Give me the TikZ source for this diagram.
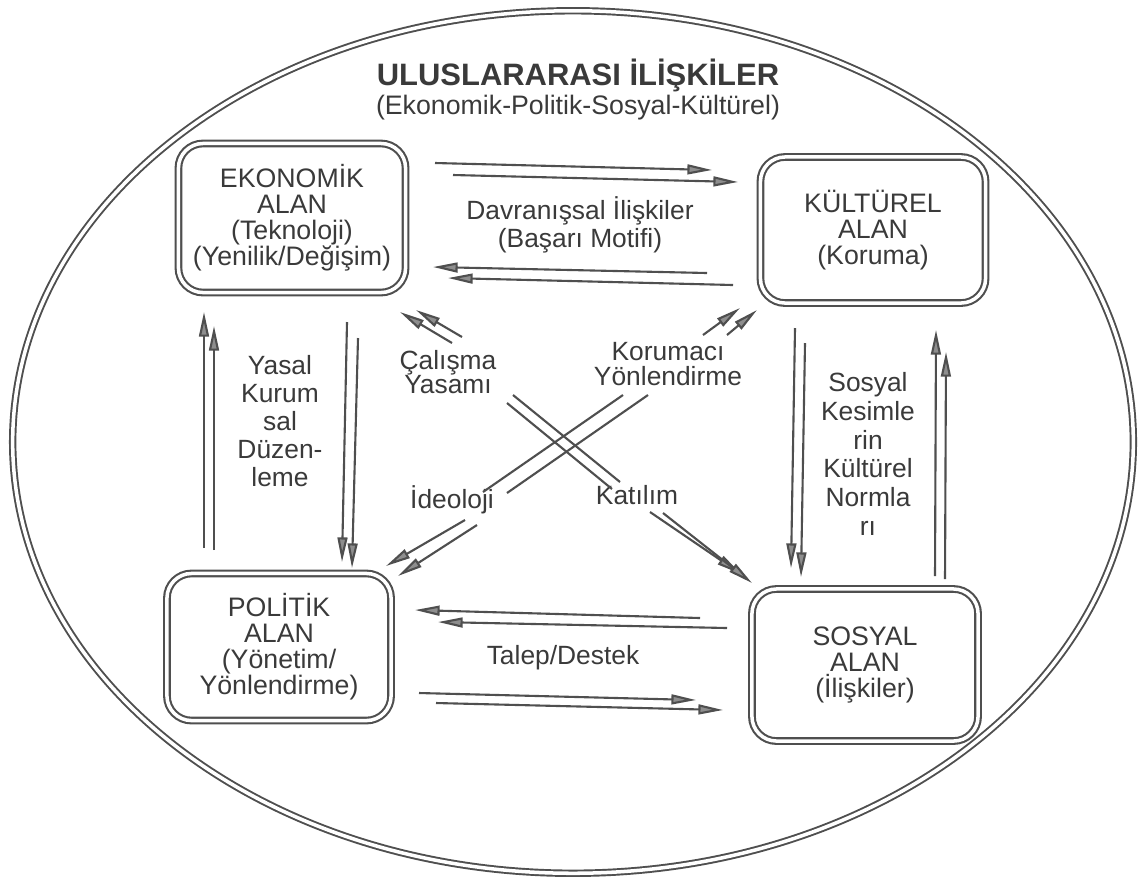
\documentclass[tikz,border=0pt]{standalone}
\usepackage{fontspec}
\setmainfont{Liberation Sans}
\usetikzlibrary{arrows.meta}
\definecolor{txt}{HTML}{3A3A3A}
\definecolor{ln}{HTML}{4F4F4F}
\definecolor{tipc}{HTML}{8E8E8E}
\begin{document}
\begin{tikzpicture}[x=0.01cm,y=-0.01cm,
  box/.style={draw=ln, line width=0.6pt, double=white, double distance=1pt, rounded corners=7pt,
              text=txt, align=center, font=\fontsize{7.6}{7.4}\selectfont, inner sep=0pt},
  arr/.style={draw=ln, line width=0.6pt, -{Triangle[length=7pt,width=2.8pt,fill=tipc]}},
  dline/.style={draw=ln, line width=0.6pt},
  lbl/.style={text=txt, align=center, font=\fontsize{7.5}{7.9}\selectfont, inner sep=1pt}]
\fill[white] (0,0) rectangle (1140,881);
\useasboundingbox (0,0) rectangle (1140,881);
% outer ellipse
\draw[ln, line width=0.55pt, double=white, double distance=1pt] (573,442) ellipse [x radius=5.6cm, y radius=4.31cm];
% title
\node[text=txt, font=\bfseries\fontsize{8.8}{10}\selectfont, inner sep=0pt] (title) at (578,75) {ULUSLARARASI İLİŞKİLER};
\node[text=txt, font=\fontsize{7.6}{9}\selectfont, inner sep=0pt] (subtitle) at (578,108) {(Ekonomik-Politik-Sosyal-Kültürel)};
% boxes
\node[box, minimum width=2.27cm, minimum height=1.49cm] (eko) at (292,218) {EKONOMİK\\ALAN\\(Teknoloji)\\(Yenilik/Değişim)};
\node[box, minimum width=2.25cm, minimum height=1.46cm] (kul) at (873,230) {KÜLTÜREL\\ALAN\\(Koruma)};
\node[box, minimum width=2.24cm, minimum height=1.47cm] (pol) at (279,647) {POLİTİK\\ALAN\\(Yönetim/\\Yönlendirme)};
\node[box, minimum width=2.26cm, minimum height=1.52cm] (sos) at (865,665) {SOSYAL\\ALAN\\(İlişkiler)};
% labels
\node[lbl] (davr) at (580,225) {Davranışsal İlişkiler\\(Başarı Motifi)};
\node[lbl, font=\fontsize{7.5}{7.9}\selectfont] (yasal) at (280,421) {Yasal\\Kurum\\sal\\Düzen-\\leme};
\node[lbl, font=\fontsize{7.5}{8.2}\selectfont] (sosy) at (868,454) {Sosyal\\Kesimle\\rin\\Kültürel\\Normla\\rı};
\node[lbl, font=\fontsize{7.5}{7.0}\selectfont] (calis) at (448,372) {Çalışma\\Yasamı};
\node[lbl, font=\fontsize{7.5}{7.0}\selectfont] (korum) at (668,364) {Korumacı\\Yönlendirme};
\node[lbl] (ideo) at (452,500) {İdeoloji};
\node[lbl] (katil) at (637,495) {Katılım};
\node[lbl] (talep) at (563,658) {Talep/Destek};
% coordinates
\coordinate (t1s) at (435,163); \coordinate (t1e) at (712,170);
\coordinate (t2s) at (453,175); \coordinate (t2e) at (738,182);
\coordinate (t3s) at (707,273); \coordinate (t3e) at (433,267);
\coordinate (t4s) at (733,285); \coordinate (t4e) at (448,278);
\coordinate (l1s) at (204,548); \coordinate (l1e) at (204,312);
\coordinate (l2s) at (214,550); \coordinate (l2e) at (214,326);
\coordinate (d1s) at (347,322); \coordinate (d1e) at (342,562);
\coordinate (d2s) at (358,338); \coordinate (d2e) at (352,568);
\coordinate (d3s) at (795,328); \coordinate (d3e) at (791,568);
\coordinate (d4s) at (805,343); \coordinate (d4e) at (801,577);
\coordinate (u1s) at (935,576); \coordinate (u1e) at (936,330);
\coordinate (u2s) at (945,579); \coordinate (u2e) at (946,352);
\coordinate (b1s) at (700,618); \coordinate (b1e) at (415,610);
\coordinate (b2s) at (727,628); \coordinate (b2e) at (438,622);
\coordinate (b3s) at (419,693); \coordinate (b3e) at (696,700);
\coordinate (b4s) at (436,703); \coordinate (b4e) at (723,710);
\coordinate (c1s) at (452,343); \coordinate (c1e) at (400,312);
\coordinate (c2s) at (462,337); \coordinate (c2e) at (416,310);
\coordinate (k1s) at (703,335); \coordinate (k1e) at (740,308);
\coordinate (k2s) at (727,335); \coordinate (k2e) at (757,310);
\coordinate (x1as) at (513,395); \coordinate (x1ae) at (620,482);
\coordinate (x1bs) at (507,403); \coordinate (x1be) at (612,489);
\coordinate (x2as) at (483,492); \coordinate (x2ae) at (623,395);
\coordinate (x2bs) at (507,493); \coordinate (x2be) at (648,395);
\coordinate (ka1s) at (650,512); \coordinate (ka1e) at (741,574);
\coordinate (ka2s) at (663,513); \coordinate (ka2e) at (752,583);
\coordinate (i1s) at (465,520); \coordinate (i1e) at (386,566);
\coordinate (i2s) at (477,525); \coordinate (i2e) at (398,576);
% arrows
\foreach \a in {t1,t2,t3,t4,l1,l2,d1,d2,d3,d4,u1,u2,b1,b2,b3,b4,c1,c2,k1,k2,ka1,ka2,i1,i2}
  \draw[arr] (\a s) -- (\a e);
\foreach \a in {x1a,x1b,x2a,x2b}
  \draw[dline] (\a s) -- (\a e);
\end{tikzpicture}
\end{document}
